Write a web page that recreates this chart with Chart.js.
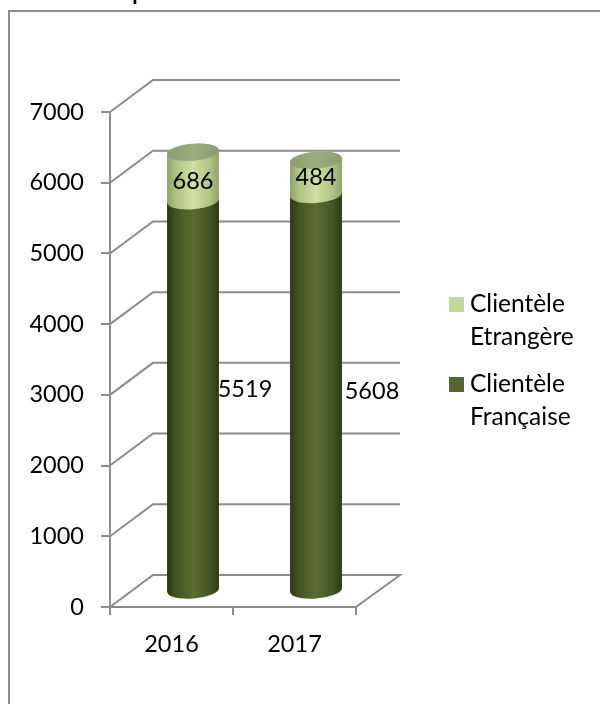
<!DOCTYPE html>
<html><head><meta charset="utf-8">
<style>html,body{margin:0;padding:0;background:#fff}#w{width:600px;height:704px;position:relative}canvas{display:block}</style>
<script src="https://cdn.jsdelivr.net/npm/chart.js@4"></script></head>
<body><div id="w"><canvas id="c" width="600" height="704"></canvas></div>
<script>
const categories = ["2016", "2017"];
const clienteleFrancaise = [5519, 5608];
const clienteleEtrangere = [686, 484];
const seriesNames = ["Clientèle Française", "Clientèle Etrangère"];
const yMax = 7000, yStep = 1000;

const FONT = 'Lato, Carlito, sans-serif', FS = 23.5, GRID = '#8c8c8c';
const DX = 43, DY = -32, RY = 8.5, ROT = -0.08;

function cylinderPath(ctx, cx, yTop, yBase, rx) {
  const ex = rx * Math.cos(ROT), ey = rx * Math.sin(ROT);
  ctx.beginPath();
  ctx.moveTo(cx - ex, yTop - ey);
  ctx.lineTo(cx - ex, yBase - ey);
  ctx.ellipse(cx, yBase, rx, RY, ROT, Math.PI, 0, true);
  ctx.lineTo(cx + ex, yTop + ey);
  ctx.ellipse(cx, yTop, rx, RY, ROT, 0, Math.PI, true);
  ctx.closePath();
}
function shade(ctx, cx, rx, stops) {
  const g = ctx.createLinearGradient(cx - rx, 0, cx + rx, 0);
  stops.forEach(s => g.addColorStop(s[0], s[1]));
  return g;
}
const DARK = [[0,'#2b3813'],[0.18,'#445425'],[0.5,'#5c6d30'],[0.82,'#445425'],[1,'#2b3813']];
const LIGHT = [[0,'#8ea26a'],[0.18,'#b0c285'],[0.5,'#d0e0a4'],[0.82,'#b0c285'],[1,'#8ea26a']];
const CAP = [[0,'#8b9d6f'],[0.5,'#9cae80'],[1,'#8b9d6f']];

const scene = {
  id: 'scene',
  beforeDraw(chart) {
    const ctx = chart.ctx;
    ctx.save();
    ctx.fillStyle = '#fff'; ctx.fillRect(0, 0, 600, 704);
    ctx.strokeStyle = GRID; ctx.lineWidth = 2;
    ctx.beginPath(); ctx.moveTo(9, 704); ctx.lineTo(9, 11); ctx.lineTo(600, 11); ctx.stroke();
    ctx.fillStyle = '#000'; ctx.font = '30px ' + FONT; ctx.textBaseline = 'alphabetic';
    ctx.fillText('p', 131.5, -1);
    ctx.restore();
  },
  beforeDatasetsDraw(chart) {
    const ctx = chart.ctx, y = chart.scales.y, a = chart.chartArea;
    ctx.save();
    ctx.strokeStyle = GRID; ctx.lineWidth = 2;
    for (let v = 0; v <= yMax; v += yStep) {
      const p = y.getPixelForValue(v);
      ctx.beginPath();
      ctx.moveTo(a.left, p); ctx.lineTo(a.left + DX, p + DY); ctx.lineTo(a.right + DX + 1, p + DY);
      if (v === 0) ctx.lineTo(a.right, p);
      ctx.stroke();
    }
    chart.data.datasets.forEach((ds, d) => {
      chart.getDatasetMeta(d).data.forEach(el => {
        const cx = el.x + DX / 2, rx = el.width / 2;
        const yt = el.y + DY / 2, yb = el.base + DY / 2;
        cylinderPath(ctx, cx, yt, yb, rx);
        ctx.fillStyle = shade(ctx, cx, rx, d === 0 ? DARK : LIGHT);
        ctx.fill();
        if (d === chart.data.datasets.length - 1) {
          ctx.beginPath();
          ctx.ellipse(cx, yt, rx, RY, ROT, 0, Math.PI * 2);
          ctx.fillStyle = shade(ctx, cx, rx, CAP);
          ctx.fill();
        }
      });
    });
    ctx.restore();
    return false;
  },
  afterDraw(chart) {
    const ctx = chart.ctx;
    ctx.save();
    ctx.fillStyle = '#000';
    ctx.font = FS + 'px ' + FONT;
    ctx.textAlign = 'center'; ctx.textBaseline = 'middle';
    const shift = [[[52, -6], [56, -1]], [[0, 5], [0, 0]]];
    chart.data.datasets.forEach((ds, d) => {
      chart.getDatasetMeta(d).data.forEach((el, i) => {
        const mid = (el.y + el.base) / 2 + DY / 2;
        ctx.fillText(String(ds.data[i]), el.x + DX / 2 + shift[d][i][0], mid + shift[d][i][1]);
      });
    });
    // legend
    ctx.font = '24.5px ' + FONT;
    const rows = [[1, 297], [0, 377]];
    rows.forEach(([d, top]) => {
      const ds = chart.data.datasets[d];
      ctx.fillStyle = ds.backgroundColor;
      ctx.fillRect(449, top, 15, 15);
      ctx.fillStyle = '#000'; ctx.textAlign = 'left';
      ds.label.split(' ').forEach((w, k) => ctx.fillText(w, 470, top + 7 + k * 33));
    });
    ctx.restore();
  }
};

new Chart(document.getElementById('c'), {
  type: 'bar',
  data: { labels: categories, datasets: [
    { label: seriesNames[0], data: clienteleFrancaise, backgroundColor: '#556630', barPercentage: 0.423, categoryPercentage: 1 },
    { label: seriesNames[1], data: clienteleEtrangere, backgroundColor: '#c3d69b', barPercentage: 0.423, categoryPercentage: 1 }
  ]},
  plugins: [scene],
  options: {
    responsive: false, animation: false,
    layout: { padding: { left: 0, right: 244, top: 112, bottom: 0 } },
    plugins: { legend: { display: false }, tooltip: { enabled: false }, title: { display: false } },
    scales: {
      x: { stacked: true, offset: true,
        afterFit(s) { s.height = 97; },
        border: { color: GRID, width: 2 },
        grid: { offset: true, drawOnChartArea: false, drawTicks: true, tickLength: 8, color: GRID, lineWidth: 2 },
        ticks: { color: '#000', font: { family: FONT, size: FS }, padding: 15, maxRotation: 0 } },
      y: { stacked: true, min: 0, max: yMax,
        afterFit(s) { s.width = 110; },
        border: { color: GRID, width: 2 },
        grid: { drawOnChartArea: false, drawTicks: true, tickLength: 9, color: GRID, lineWidth: 2 },
        ticks: { stepSize: yStep, color: '#000', font: { family: FONT, size: FS }, padding: 17,
          callback: v => String(v) } }
    }
  }
});
</script></body></html>
